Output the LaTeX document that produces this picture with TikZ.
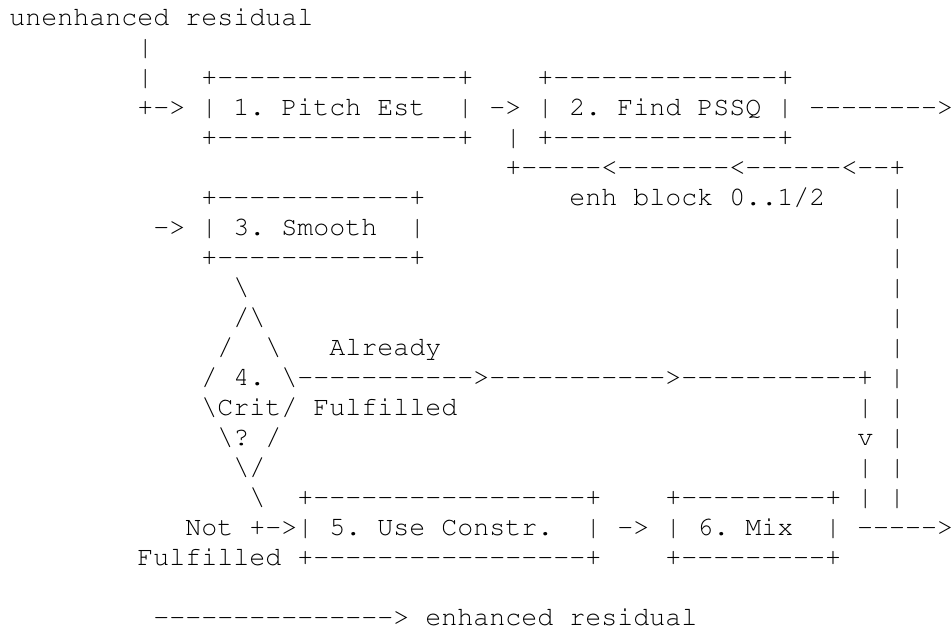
\documentclass[tikz,border=0pt]{standalone}
\usepackage[T1]{fontenc}
\usepackage{courier}
\newlength\chw \setlength\chw{8pt}
\newcommand\gap[1]{\hspace*{#1\chw}}
\newcommand\dashrun[1]{\foreach\dd in {1,...,#1}{-{}}}
\newcommand\bs{\textbackslash}
\begin{document}
\begin{tikzpicture}[x=8pt,y=15pt]
\tikzstyle{every node}+=[inner sep=0pt,anchor=base west,font=\fontsize{13.33pt}{15pt}\selectfont\ttfamily]
\useasboundingbox (-4.5pt,12.5pt) rectangle (471pt,-304pt);
% input and first two blocks
\draw (0,0) node (r1) {unenhanced~residual};
\draw (8,-1) node (r2) {|};
\draw (8,-2) node (r3) {|\gap{3}+\dashrun{15}+\gap{4}+\dashrun{14}+};
\draw (8,-3) node (r4) {+->~|~1.~Pitch~Est~~|~->~|~2.~Find~PSSQ~|~\dashrun{8}>};
\draw (12,-4) node (r5) {+\dashrun{15}+\gap{2}|~+\dashrun{14}+};
\draw (31,-5) node (r6) {+\dashrun{5}<\dashrun{7}<\dashrun{6}<\dashrun{2}+};
% smoothing and criterion
\draw (12,-6) node (r7) {+\dashrun{12}+\gap{9}enh~block~0..1/2\gap{4}|};
\draw (9,-7) node (r8) {->~|~3.~Smooth~~|\gap{29}|};
\draw (12,-8) node (r9) {+\dashrun{12}+\gap{29}|};
\draw (14,-9) node (r10) {\bs\gap{40}|};
\draw (14,-10) node (r11) {/\bs\gap{39}|};
\draw (13,-11) node (r12) {/~~\bs~~~Already\gap{28}|};
\draw (12,-12) node (r13) {/~4.~\bs\dashrun{11}>\dashrun{11}>\dashrun{11}+~|};
\draw (12,-13) node (r14) {\bs Crit/~Fulfilled\gap{25}|~|};
\draw (13,-14) node (r15) {\bs?~/\gap{36}v~|};
\draw (14,-15) node (r16) {\bs/\gap{37}|~|};
% constraint and mix
\draw (15,-16) node (r17) {\bs~~+\dashrun{17}+\gap{4}+\dashrun{9}+~|~|};
\draw (11,-17) node (r18) {Not~+->|~5.~Use~Constr.~~|~->~|~6.~Mix~~|~\dashrun{5}>};
\draw (8,-18) node (r19) {Fulfilled~+\dashrun{17}+\gap{4}+\dashrun{9}+};
\draw (9,-20) node (r21) {\dashrun{15}>~enhanced~residual};
\end{tikzpicture}
\end{document}
